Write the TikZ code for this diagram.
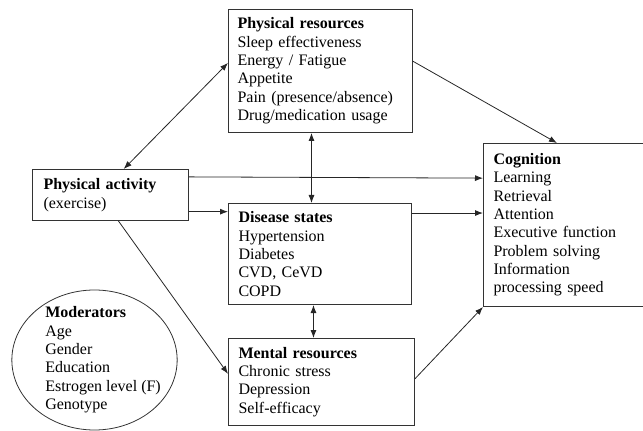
\documentclass[tikz,border=0pt]{standalone}
\usepackage{fontspec}
\setmainfont{Liberation Serif}
\usetikzlibrary{arrows.meta,shapes.geometric}
\begin{document}
\begin{tikzpicture}[x=0.75pt,y=-0.75pt,
  >={Latex[length=6pt,width=4.5pt]},
  every node/.style={font=\fontsize{12pt}{13.75pt}\selectfont},
  box/.style={draw=black!80,line width=0.75pt,align=left,anchor=north west,inner ysep=0pt},
  link/.style={line width=0.6pt,draw=black!85}]
\useasboundingbox (0,0) rectangle (643,431);
\node[box,inner xsep=6.75pt,text width=124.5pt,minimum height=92.25pt] (PR) at (228,9)
  {\textbf{Physical resources}\\Sleep effectiveness\\Energy / Fatigue\\Appetite\\Pain (presence/absence)\\Drug/medication usage};
\node[box,inner xsep=8.25pt,text width=100.5pt,minimum height=38.25pt] (PA) at (32,169)
  {\textbf{Physical activity}\\(exercise)};
\node[box,inner xsep=7.5pt,text width=122.25pt,minimum height=75.75pt] (DS) at (228,203)
  {\textbf{Disease states}\\Hypertension\\Diabetes\\CVD, CeVD\\COPD};
\node[box,inner xsep=7.5pt,text width=124.5pt,minimum height=65.25pt] (MR) at (228,338)
  {\textbf{Mental resources}\\Chronic stress\\Depression\\Self-efficacy};
\node[box,inner xsep=7.5pt,text width=106pt,minimum height=122.25pt] (COG) at (483,143)
  {\textbf{Cognition}\\Learning\\Retrieval\\Attention\\Executive function\\Problem solving\\Information\\processing speed};
\node[ellipse,draw=black!80,line width=0.6pt,minimum width=124pt,minimum height=105pt] (MOD) at (94.5,360) {};
\node[align=left,anchor=west,inner sep=0pt] (MODtxt) at (45,360)
  {\textbf{Moderators}\\Age\\Gender\\Education\\Estrogen level (F)\\Genotype};
\draw [link,<->] (PA.63) -- (PR.175);
\draw [link,->] (PR.6) -- (COG.95);
\draw [link,<->] ([xshift=-6.75pt]PR.south) -- ([xshift=-6.75pt]PR.south |- DS.north);
\draw [link,->] (PA.13) -- (COG.150);
\draw [link,->] (PA.-12) -- (PA.-12 -| DS.west);
\draw [link,->] (DS.24) -- (DS.24 -| COG.west);
\draw [link,->] (PA.-73) -- (MR.175);
\draw [link,<->] ([xshift=-4.9pt]DS.south) -- ([xshift=-4.9pt]DS.south |- MR.north);
\draw [link,->] (MR.2) -- (COG.south west);
\end{tikzpicture}
\end{document}
